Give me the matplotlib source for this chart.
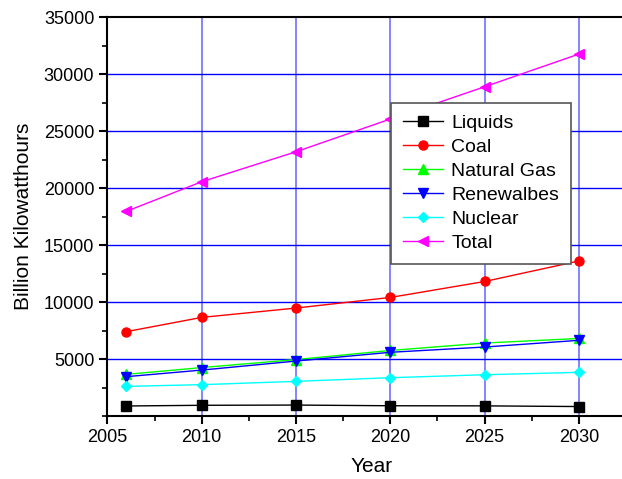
import matplotlib
matplotlib.use("Agg")
import matplotlib.pyplot as plt
from matplotlib.ticker import MultipleLocator

plt.rcParams['font.family'] = ['Liberation Sans', 'DejaVu Sans']

# data
years = [2006, 2010, 2015, 2020, 2025, 2030]
liquids = [880, 940, 960, 900, 890, 830]
coal = [7400, 8650, 9470, 10400, 11800, 13600]
natural_gas = [3650, 4250, 4950, 5750, 6400, 6800]
renewables = [3450, 4030, 4820, 5590, 6050, 6640]
nuclear = [2600, 2750, 3040, 3360, 3620, 3830]
total = [17950, 20550, 23180, 26050, 28880, 31750]

series = [
    ("Liquids", liquids, "black", "s"),
    ("Coal", coal, "red", "o"),
    ("Natural Gas", natural_gas, "#00ff00", "^"),
    ("Renewalbes", renewables, "blue", "v"),
    ("Nuclear", nuclear, "cyan", "D"),
    ("Total", total, "magenta", "<"),
]

fig = plt.figure(figsize=(6.22, 4.79), dpi=100)
ax = fig.add_axes([0.1727, 0.1315, 0.849, 0.833])

for x in [2010, 2015, 2020, 2025, 2030]:
    ax.axvline(x, color="#6f6fff", lw=1.2, zorder=0)
for y in range(5000, 35000, 5000):
    ax.axhline(y, color="#0000ff", lw=1.0, zorder=0)

for name, vals, col, mk in series:
    ms = 5.5 if mk == "D" else 6.5
    ax.plot(years, vals, color=col, marker=mk, markersize=ms, lw=1.0, label=name)

ax.set_xlim(2005, 2033)
ax.set_ylim(0, 35000)
ax.set_xticks([2005, 2010, 2015, 2020, 2025, 2030])
ax.set_yticks(range(5000, 35001, 5000))
ax.xaxis.set_minor_locator(MultipleLocator(2.5))
ax.yaxis.set_minor_locator(MultipleLocator(2500))
ax.tick_params(which="major", direction="out", length=6, width=1.5, labelsize=13)
ax.tick_params(which="minor", direction="out", length=3.5, width=1.2)
for s in ax.spines.values():
    s.set_linewidth(1.5)

ax.set_xlabel("Year", fontsize=15, labelpad=8)
ax.set_ylabel("Billion Kilowatthours", fontsize=15, labelpad=8)

leg = ax.legend(loc="upper left", bbox_to_anchor=(0.537, 0.785), borderaxespad=0,
                fontsize=14, fancybox=False, framealpha=1, edgecolor="#555555",
                handlelength=2.1, borderpad=0.6, labelspacing=0.33, handletextpad=0.4)
leg.get_frame().set_linewidth(1.2)

fig.savefig("out.png", dpi=100)
